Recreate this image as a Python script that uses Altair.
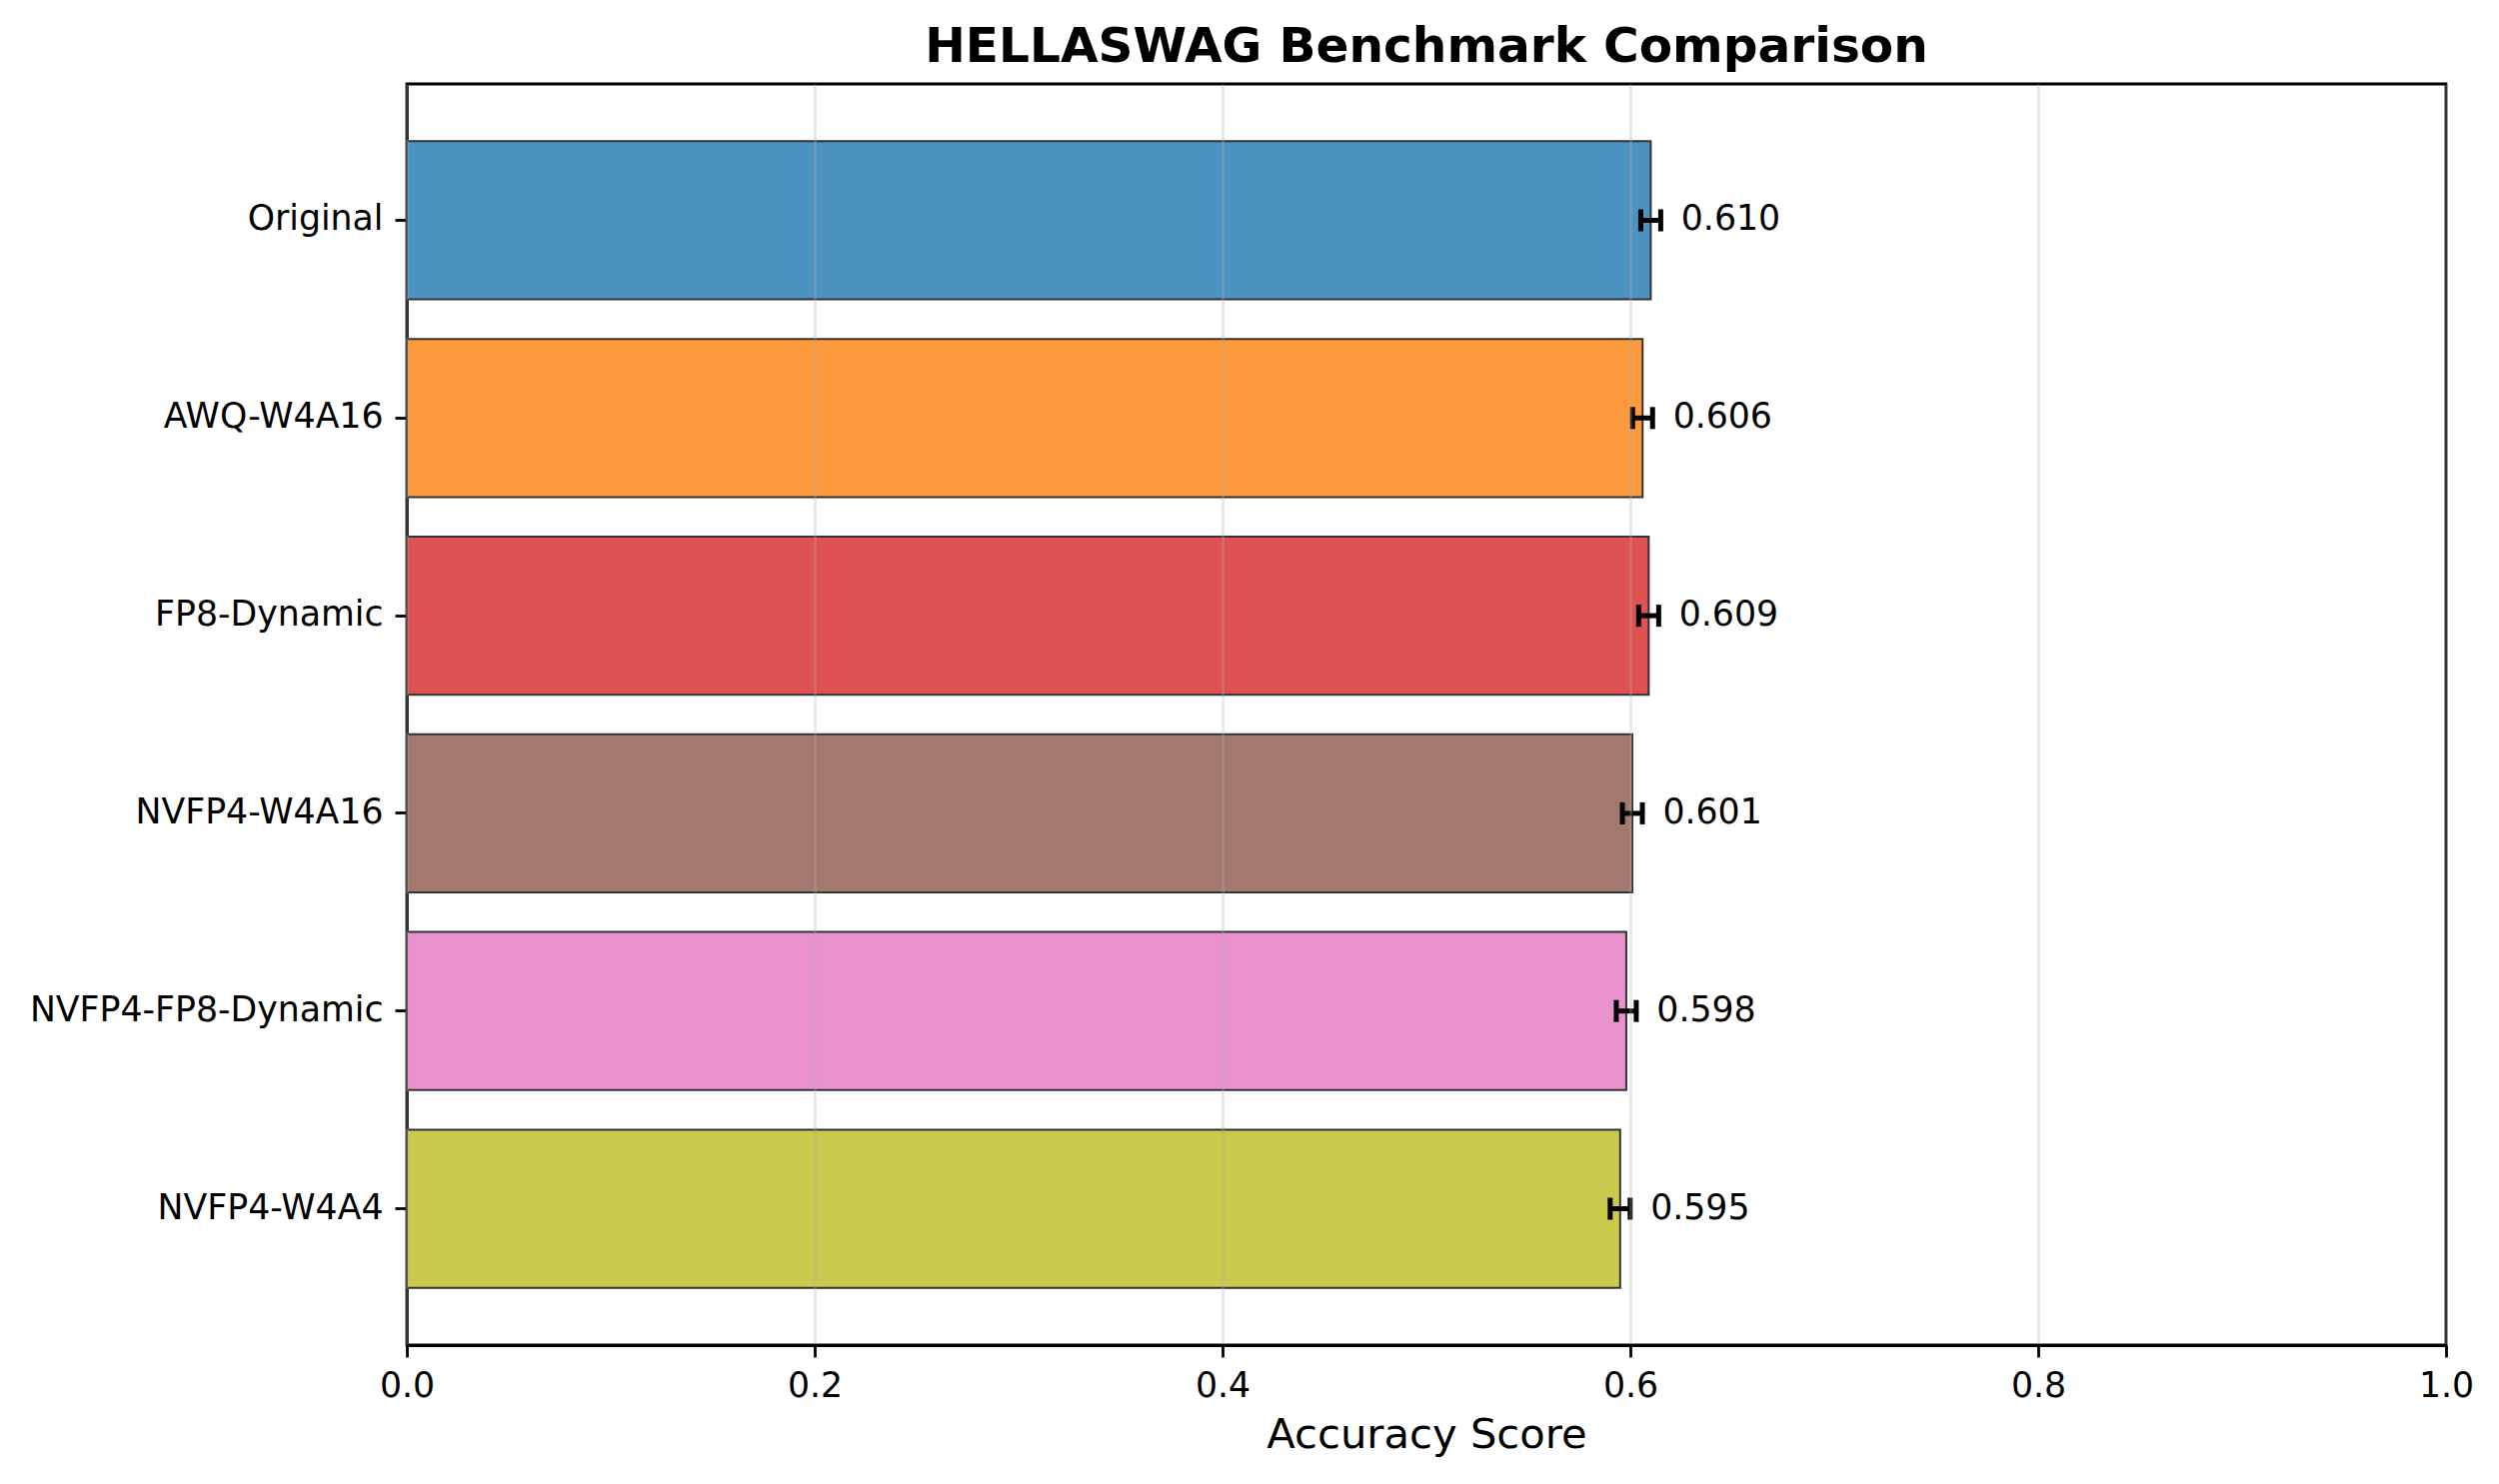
import altair as alt
import pandas as pd

models = ["Original", "AWQ-W4A16", "FP8-Dynamic", "NVFP4-W4A16", "NVFP4-FP8-Dynamic", "NVFP4-W4A4"]
scores = [0.610, 0.606, 0.609, 0.601, 0.598, 0.595]
errors = [0.0049, 0.0049, 0.0049, 0.0049, 0.0049, 0.0049]
colors = ["#4c92c3", "#ff993e", "#de5253", "#a3786f", "#e992ce", "#c9ca4e"]
x_ticks = [0.0, 0.2, 0.4, 0.6, 0.8, 1.0]

df = pd.DataFrame({"model": models, "score": scores, "err": errors})

FONT = "DejaVu Sans"

base = alt.Chart(df).transform_calculate(
    lo="datum.score - datum.err",
    hi="datum.score + datum.err",
    lx="datum.score + datum.err + 0.01",
)

y_enc = alt.Y(
    "model:N",
    sort=models,
    scale=alt.Scale(paddingInner=0.2, paddingOuter=0.29),
    axis=alt.Axis(
        title=None,
        labelFontSize=34.7,
        labelColor="black",
        labelFont=FONT,
        labelLimit=0,
        tickSize=12,
        tickWidth=2.8,
        tickColor="black",
        labelPadding=12,
        domainColor="black",
        domainWidth=2.8,
        grid=False,
    ),
)

x_scale = alt.Scale(domain=[0, 1], nice=False, zero=True)

bars = base.mark_bar(stroke="#333333", strokeWidth=2, opacity=1).encode(
    x=alt.X(
        "score:Q",
        scale=x_scale,
        axis=alt.Axis(
            values=x_ticks,
            format=".1f",
            title="Accuracy Score",
            titleFontSize=41.7,
            titleFontWeight="normal",
            titleFont=FONT,
            titleColor="black",
            titlePadding=12,
            labelFontSize=34.7,
            labelFont=FONT,
            labelColor="black",
            labelPadding=12,
            labelFlush=False,
            labelOverlap=False,
            tickSize=12,
            tickWidth=2.8,
            tickColor="black",
            domainColor="black",
            domainWidth=2.8,
            grid=True,
            gridColor="#b0b0b0",
            gridOpacity=0.3,
            gridWidth=2.8,
            zindex=1,
        ),
    ),
    y=y_enc,
    color=alt.Color("model:N", scale=alt.Scale(domain=models, range=colors), legend=None),
)

err_line = base.mark_rule(color="black", strokeWidth=5).encode(
    x=alt.X("lo:Q", scale=x_scale),
    x2="hi:Q",
    y=alt.Y("model:N", sort=models),
)

cap_lo = base.mark_tick(orient="vertical", size=22, thickness=5, color="black", opacity=1).encode(
    x=alt.X("lo:Q", scale=x_scale),
    y=alt.Y("model:N", sort=models),
)
cap_hi = base.mark_tick(orient="vertical", size=22, thickness=5, color="black", opacity=1).encode(
    x=alt.X("hi:Q", scale=x_scale),
    y=alt.Y("model:N", sort=models),
)

labels = base.mark_text(
    align="left", baseline="middle", fontSize=34.7, font=FONT, color="black"
).encode(
    x=alt.X("lx:Q", scale=x_scale),
    y=alt.Y("model:N", sort=models),
    text=alt.Text("score:Q", format=".3f"),
)

chart = (
    alt.layer(bars, err_line, cap_lo, cap_hi, labels)
    .properties(
        width=2040,
        height=1262,
        autosize=alt.AutoSizeParams(type="none"),
        padding={"left": 399, "top": 76, "right": 45, "bottom": 125},
        title=alt.TitleParams(
            "HELLASWAG Benchmark Comparison",
            fontSize=48.6,
            fontWeight="bold",
            font=FONT,
            color="black",
            anchor="middle",
            offset=11,
        ),
        background="white",
    )
    .configure_view(stroke="black", strokeWidth=2.8)
)

chart.save("out.html", embed_options={"renderer": "svg", "actions": False})
